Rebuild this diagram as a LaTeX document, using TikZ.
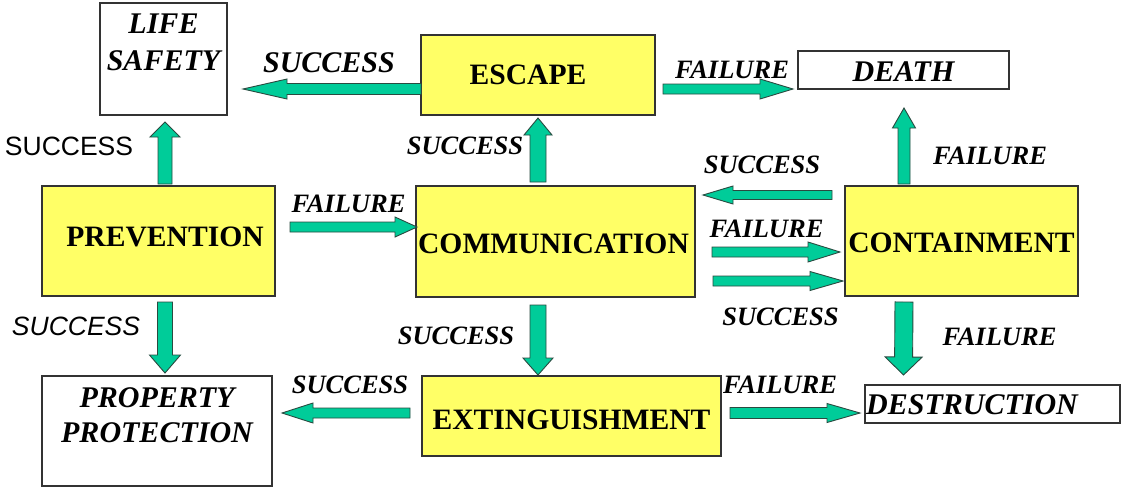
\documentclass[tikz,border=0pt]{standalone}
\usepackage{fontspec}
\setmainfont{Liberation Serif}
\newfontfamily\arialfam{Liberation Sans}
\usetikzlibrary{calc}

\definecolor{boxyellow}{HTML}{FFFF66}
\definecolor{flowgreen}{HTML}{00CC99}
\definecolor{edgegray}{HTML}{333333}
\definecolor{arrowedge}{HTML}{2A4A40}

\tikzset{
  box/.style={draw=edgegray, line width=1.8pt, inner sep=0pt, outer sep=0pt},
  ybox/.style={box, fill=boxyellow},
  wbox/.style={box, fill=white},
  btxt/.style={inner sep=0pt, font=\fontsize{29.6}{34}\selectfont\bfseries},
  itxt/.style={inner sep=0pt, font=\fontsize{30}{37}\selectfont\bfseries\itshape},
  lbl/.style={inner sep=0pt, font=\fontsize{26.5}{30}\selectfont\bfseries\itshape},
  slbl/.style={inner sep=0pt, font=\arialfam\fontsize{26.5}{30}\selectfont},
  islbl/.style={inner sep=0pt, font=\arialfam\fontsize{26.5}{30}\selectfont\itshape},
  flow/.style={fill=flowgreen, draw=arrowedge, line width=0.9pt, line join=miter},
  % block arrow: #1 shaft half width, #2 head half width, #3 head length
  barrow/.style n args={3}{to path={
    let \p1=(\tikztostart), \p2=(\tikztotarget),
        \n1={veclen(\x2-\x1,\y2-\y1)},
        \n2={(\x2-\x1)/\n1}, \n3={(\y2-\y1)/\n1}
    in ({\x1-(\n3)*(#1)},{\y1+(\n2)*(#1)})
    -- ({\x2-(\n2)*(#3)-(\n3)*(#1)},{\y2-(\n3)*(#3)+(\n2)*(#1)})
    -- ({\x2-(\n2)*(#3)-(\n3)*(#2)},{\y2-(\n3)*(#3)+(\n2)*(#2)})
    -- (\p2)
    -- ({\x2-(\n2)*(#3)+(\n3)*(#2)},{\y2-(\n3)*(#3)-(\n2)*(#2)})
    -- ({\x2-(\n2)*(#3)+(\n3)*(#1)},{\y2-(\n3)*(#3)-(\n2)*(#1)})
    -- ({\x1+(\n3)*(#1)},{\y1-(\n2)*(#1)})
    -- cycle}}
}

\begin{document}
\begin{tikzpicture}[x=1pt,y=-1pt]
\fill[white] (0,0) rectangle (1122,488);
\useasboundingbox (0,0) rectangle (1122,488);

% boxes
\node[wbox, minimum width=127, minimum height=112,
  label={[itxt, align=center, anchor=north, yshift=-11pt]north:LIFE\\SAFETY}] (life) at (163.5,59) {};
\node[ybox, minimum width=234, minimum height=80,
  label={[btxt, xshift=-10pt, yshift=0.5pt]center:ESCAPE}] (escape) at (538,75) {};
\node[wbox, minimum width=211, minimum height=38,
  label={[itxt, yshift=-1.5pt]center:DEATH}] (death) at (903.5,70) {};
\node[ybox, minimum width=233, minimum height=110,
  label={[btxt, xshift=6.5pt, yshift=4.5pt]center:PREVENTION}] (prev) at (158.5,241) {};
\node[ybox, minimum width=279, minimum height=111,
  label={[btxt, xshift=-2pt, yshift=-2.5pt]center:COMMUNICATION}] (comm) at (555.5,241.5) {};
\node[ybox, minimum width=233, minimum height=110,
  label={[btxt, yshift=-2pt]center:CONTAINMENT}] (cont) at (961.5,241) {};
\node[ybox, minimum width=299, minimum height=80,
  label={[btxt, yshift=-4pt]center:EXTINGUISHMENT}] (ext) at (571.5,416) {};
\node[wbox, minimum width=230, minimum height=110,
  label={[itxt, font=\fontsize{30}{35}\selectfont\bfseries\itshape, align=center, anchor=north, yshift=-11pt]north:PROPERTY\\PROTECTION}] (prop) at (157,431) {};
\node[wbox, minimum width=255, minimum height=38,
  label={[itxt, anchor=west, xshift=1pt, yshift=-0.5pt]west:DESTRUCTION}] (dest) at (992.5,404) {};

% block arrows
\draw[flow] ($(escape.west)+(0,14)$) to[barrow={5.5}{10}{44}] ($(life.east)+(16,30)$);
\draw[flow] ($(escape.east)+(8,14)$) to[barrow={5}{10}{33}] ($(death.west)+(-5,19)$);
\draw[flow] ($(prev.north)+(6.5,-2)$) to[barrow={7}{15}{15}] ($(life.south)+(1.5,7)$);
\draw[flow] ($(comm.north)+(-17.5,-4)$) to[barrow={8}{14}{17}] ($(escape.south)+(0,3)$);
\draw[flow] ($(cont.north)+(-57.5,-2)$) to[barrow={6}{11.5}{20}] ($(death.south)+(0.5,19)$);
\draw[flow] ($(cont.west)+(-13,-46)$) to[barrow={4.5}{9}{30}] ($(comm.east)+(8,-46.5)$);
\draw[flow] ($(comm.east)+(17,10.5)$) to[barrow={5}{10}{32}] ($(cont.west)+(-5,11)$);
\draw[flow] ($(comm.east)+(18,39.5)$) to[barrow={5}{9.5}{33}] ($(cont.west)+(-2,40)$);
\draw[flow] ($(prev.east)+(15,-14)$) to[barrow={5}{10}{22}] ($(comm.west)+(1,-14.5)$);
\draw[flow] ($(prev.south)+(6.5,6)$) to[barrow={7.5}{15.5}{18}] ($(prop.north)+(8,-3)$);
\draw[flow] ($(comm.south)+(-17.5,8)$) to[barrow={8}{15}{17}] ($(ext.north)+(-33.5,-1)$);
\draw[flow] ($(cont.south)+(-57.5,6)$) to[barrow={9}{18.5}{18}] ($(dest.north)+(-89,-10)$);
\draw[flow] ($(ext.west)+(-12,-3)$) to[barrow={5}{10}{31}] ($(prop.east)+(10,-18)$);
\draw[flow] ($(ext.east)+(9,-3)$) to[barrow={5.5}{9.5}{33}] ($(dest.west)+(-5,9)$);

% outcome labels
\node[lbl, font=\fontsize{30}{34}\selectfont\bfseries\itshape] (t1) at (329,62.5) {SUCCESS};
\node[lbl] (t2) at (732,70) {FAILURE};
\node[slbl] (t3) at (69,146) {SUCCESS};
\node[lbl] (t4) at (465,146) {SUCCESS};
\node[lbl] (t5) at (762,165) {SUCCESS};
\node[lbl] (t6) at (990,155.5) {FAILURE};
\node[lbl] (t7) at (348.5,203.5) {FAILURE};
\node[lbl] (t8) at (766.5,228.5) {FAILURE};
\node[lbl] (t9) at (780.5,316.5) {SUCCESS};
\node[islbl] (t10) at (76,326) {SUCCESS};
\node[lbl] (t11) at (456,336) {SUCCESS};
\node[lbl] (t12) at (999.5,336.5) {FAILURE};
\node[lbl] (t13) at (350,385) {SUCCESS};
\node[lbl] (t14) at (780,385) {FAILURE};
\end{tikzpicture}
\end{document}
